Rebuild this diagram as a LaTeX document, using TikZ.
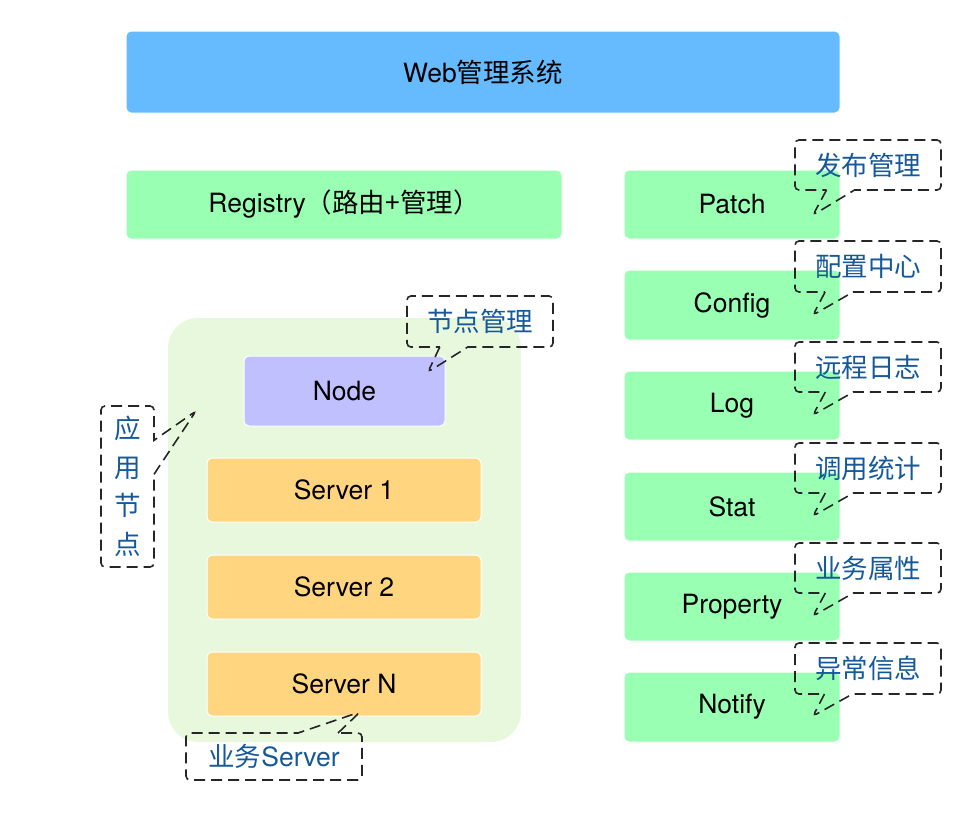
\documentclass[tikz,border=0pt]{standalone}
\usepackage{fontspec}
\setmainfont{TeX Gyre Heros}
\newfontfamily\cjk{Noto Sans CJK SC}
\usetikzlibrary{shapes.callouts}
\definecolor{webblue}{HTML}{66BBFF}
\definecolor{mgreen}{HTML}{99FFB3}
\definecolor{appgreen}{HTML}{E8F8DC}
\definecolor{nodepurple}{HTML}{C0C0FF}
\definecolor{srvorange}{HTML}{FFD580}
\definecolor{noteblue}{HTML}{15599A}
\tikzset{
  box/.style={draw=white, line width=1pt, rounded corners=5pt, inner sep=0pt, outer sep=0pt,
    anchor=north west, text=black, font=\fontsize{26.5}{30}\selectfont},
  note/.style={rectangle callout, draw=black!85, line width=1.6pt, dash pattern=on 11pt off 6pt,
    rounded corners=4pt, inner sep=0pt, outer sep=0pt, anchor=north west, text=noteblue,
    font=\cjk\fontsize{26.5}{38.5}\selectfont, callout pointer width=28pt}
}
\begin{document}
\begin{tikzpicture}[x=1pt,y=-1pt]
\useasboundingbox (0,0) rectangle (966,812);
% top
\node[box, fill=webblue, minimum width=714pt, minimum height=82pt] (web) at (126,31) {Web{\cjk 管理系统}};
\node[box, fill=mgreen, minimum width=436pt, minimum height=69pt] (reg) at (126,170) {Registry{\cjk （路由+管理）}};
% app container
\node[fill=appgreen, rounded corners=30pt, inner sep=0pt, outer sep=0pt, anchor=north west,
  minimum width=353pt, minimum height=424pt] (app) at (168,318) {};
\node[box, fill=nodepurple, minimum width=201pt, minimum height=70pt] (nd) at (244,356) {Node};
\node[box, fill=srvorange, minimum width=274pt, minimum height=64pt] (s1) at (207,458) {Server 1};
\node[box, fill=srvorange, minimum width=274pt, minimum height=64pt] (s2) at (207,555) {Server 2};
\node[box, fill=srvorange, minimum width=274pt, minimum height=64pt] (sn) at (207,652) {Server N};
% right column
\node[box, fill=mgreen, minimum width=216pt, minimum height=69pt] (patch) at (624,170) {Patch};
\node[box, fill=mgreen, minimum width=216pt, minimum height=70pt] (config) at (624,270) {Config};
\node[box, fill=mgreen, minimum width=216pt, minimum height=69pt] (log) at (624,371) {Log};
\node[box, fill=mgreen, minimum width=216pt, minimum height=69pt] (stat) at (624,472) {Stat};
\node[box, fill=mgreen, minimum width=216pt, minimum height=69pt] (prop) at (624,572) {Property};
\node[box, fill=mgreen, minimum width=216pt, minimum height=70pt] (notify) at (624,672) {Notify};
% callouts
\node[note, minimum width=146pt, minimum height=50pt, callout absolute pointer={(813,215)}] (c1) at (795,140) {发布管理};
\node[note, minimum width=146pt, minimum height=51pt, callout absolute pointer={(813,315)}] (c2) at (795,241) {配置中心};
\node[note, minimum width=146pt, minimum height=50pt, callout absolute pointer={(813,415)}] (c3) at (795,342) {远程日志};
\node[note, minimum width=146pt, minimum height=50pt, callout absolute pointer={(813,516)}] (c4) at (795,443) {调用统计};
\node[note, minimum width=146pt, minimum height=50pt, callout absolute pointer={(813,616)}] (c5) at (795,543) {业务属性};
\node[note, minimum width=146pt, minimum height=51pt, callout absolute pointer={(813,716)}] (c6) at (795,643) {异常信息};
\node[note, minimum width=146pt, minimum height=51pt, callout absolute pointer={(428,372)}] (cn) at (407,296) {节点管理};
\node[note, minimum width=53pt, minimum height=161pt, align=center, callout pointer width=34pt,
  callout absolute pointer={(196,411)}] (ca) at (101,406) {应\\用\\节\\点};
\node[note, minimum width=176pt, minimum height=47pt, callout pointer width=40pt,
  callout absolute pointer={(360,712)}] (cs) at (186,733) {业务{\rmfamily Server}};
\end{tikzpicture}
\end{document}
